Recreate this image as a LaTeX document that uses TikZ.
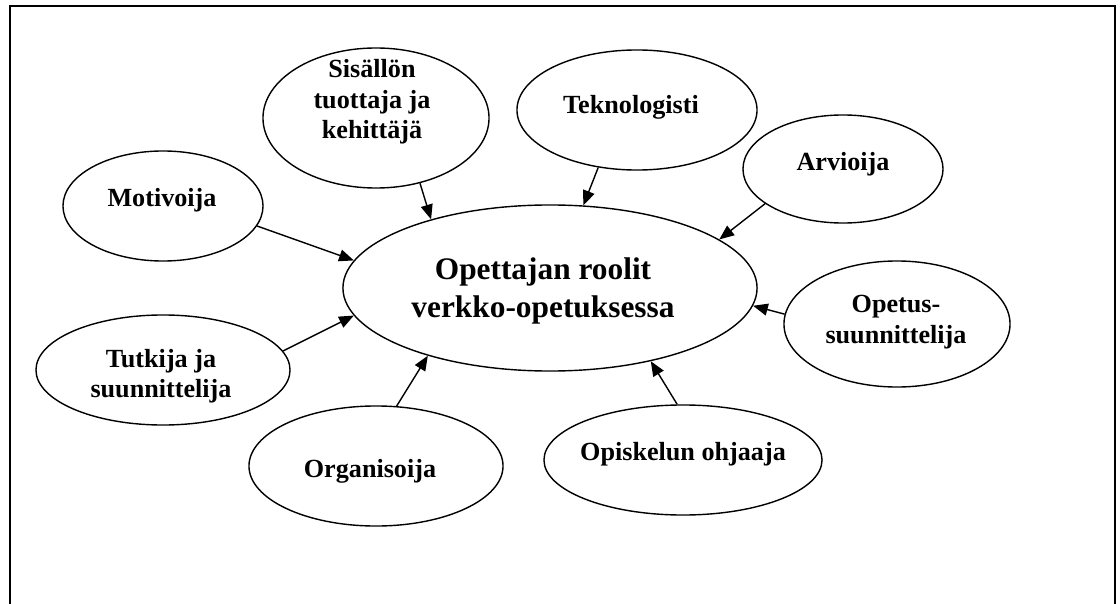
\documentclass[tikz,border=0pt]{standalone}
\usepackage{fontspec}
\setmainfont{Liberation Serif}
\usetikzlibrary{shapes.geometric,arrows.meta}
\newcommand{\rolefont}{\fontsize{18.6}{21.6}\selectfont\bfseries}
\newcommand{\keyfont}{\fontsize{22.3}{27}\selectfont\bfseries}
\tikzset{
  role/.style 2 args={draw,ellipse,line width=1pt,inner sep=0pt,
    minimum width=#1*0.05cm,minimum height=#2*0.05cm},
  roletext/.style={align=center,font=\rolefont,inner sep=0pt},
  toarrow/.style={-{Triangle[length=10.5pt,width=8.5pt]},line width=1pt}
}
\begin{document}
\begin{tikzpicture}[x=0.025cm,y=-0.025cm]
    \useasboundingbox (0,0) rectangle (1120,604);
    \draw[line width=1.8pt] (10,604)--(10,6)--(1115,6)--(1115,604); %kehys

    % keskus
    \node[role={207}{83}] (main) at (550,288) {};
    \node[roletext,font=\keyfont] (main-t) at (543,291) {Opettajan roolit\\verkko-opetuksessa};

    % roolit
    \node[role={113}{70}] (sis) at (376,118) {};
    \node[roletext] (sis-t) at (372,102) {Sisällön\\tuottaja ja\\kehittäjä};
    \node[role={120}{60}] (tek) at (637,110) {};
    \node[roletext] (tek-t) at (631,107) {Teknologisti};
    \node[role={100}{54}] (arv) at (843,169) {};
    \node[roletext] (arv-t) at (843,164) {Arvioija};
    \node[role={100}{55}] (mot) at (163,206) {};
    \node[roletext] (mot-t) at (162,200) {Motivoija};
    \node[role={113}{63}] (ops) at (897,324) {};
    \node[roletext] (ops-t) at (896,322) {Opetus-\\suunnittelija};
    \node[role={127}{55}] (tut) at (163,370) {};
    \node[roletext] (tut-t) at (161,376) {Tutkija ja\\suunnittelija};
    \node[role={127}{60}] (org) at (376,466) {};
    \node[roletext] (org-t) at (370,471) {Organisoija};
    \node[role={139}{55}] (opi) at (683,460) {};
    \node[roletext] (opi-t) at (683,454) {Opiskelun ohjaaja};

    % nuolet
    \draw[toarrow] (mot.-12) -- (main.172.5);
    \draw[toarrow] (sis.-56) -- (main.150);
    \draw[toarrow] (tek.-124) -- (main.68);
    \draw[toarrow] (arv.-156) -- (main.16.5);
    \draw[toarrow] (ops.175) -- (main.-5.6);
    \draw[toarrow] (tut.9) -- (main.188);
    \draw[toarrow] (org.71) -- (main.209.5);
    \draw[toarrow] (opi.96.5) -- (main.-36);
\end{tikzpicture}
\end{document}
